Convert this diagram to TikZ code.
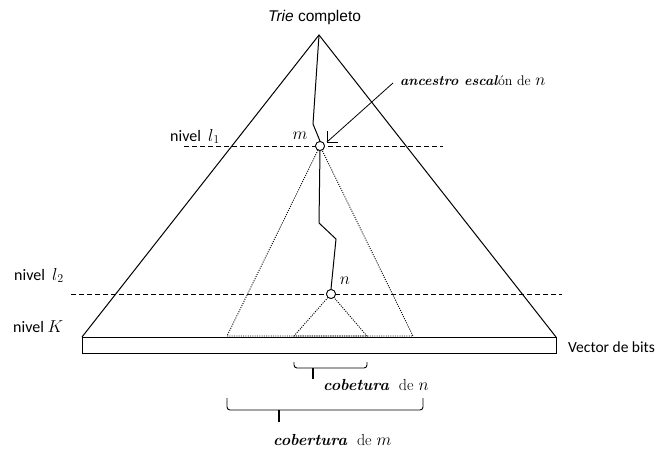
\documentclass[tikz,border=0pt]{standalone}
\usepackage{fontspec}
\newfontfamily\calib{Carlito}
\newfontfamily\arialf{Liberation Sans}
\usetikzlibrary{arrows.meta}
\begin{document}
\begin{tikzpicture}[x=1pt,y=-1pt,
  solidln/.style={line width=1pt},
  dashln/.style={line width=0.8pt,dash pattern=on 5pt off 3pt},
  dotln/.style={line width=0.9pt,dash pattern=on 1pt off 1.3pt},
  nd/.style={circle,draw,fill=white,line width=0.8pt,minimum size=9pt,inner sep=0pt},
  brc/.style={line width=0.9pt,rounded corners=3pt},
  lbl/.style={inner sep=0pt,anchor=base west},
  serifl/.style={font=\fontsize{16}{19}\selectfont}]
\useasboundingbox (0,0) rectangle (661,452);
% coordinates
\coordinate (apex) at (319,35);
\coordinate (bl) at (82,337);
\coordinate (br) at (556,337);
\coordinate (p1) at (313,124);
\coordinate (p2) at (319,223);
\coordinate (p3) at (336,239);
\coordinate (mL) at (227,336);
\coordinate (mR) at (413,336);
\coordinate (nL) at (294,336);
\coordinate (nR) at (367,336);
% vector de bits
\draw[solidln] (82,337) rectangle (556,353);
% triangle
\draw[solidln] (bl) -- (apex) -- (br);
% dashed levels
\draw[dashln] (184,146) -- (443,146);
\draw[dashln] (71,294) -- (562,294);
% dotted sub-tries
\draw[dotln] (320,146) -- (mL) -- (mR) -- cycle;
\draw[dotln] (331,294) -- (nL) -- (nR) -- cycle;
% path
\node[nd] (m) at (320,146) {};
\node[nd] (n) at (331,294) {};
\draw[solidln] (apex) -- (p1) -- (m.north);
\draw[solidln] (m.south) -- (p2) -- (p3) -- (n.north);
\node[nd] at (320,146) {};
\node[nd] at (331,294) {};
% arrow
\coordinate (as) at (393,83);
\coordinate (at) at (327,142);
\draw[line width=0.8pt] (as) -- (at);
\draw[line width=0.8pt] (327,131) -- (at) -- (338,142);
% labels
\node[lbl,font=\arialf\fontsize{15.5}{18}\selectfont] (trie) at (268,22) {\textit{Trie} completo};
\node[lbl,font=\fontsize{14}{17}\selectfont] (anc) at (400,85) {\textbf{\textit{ancestro escal}}ón de \fontsize{16}{19}\selectfont$n$};
\node[font=\fontsize{16.5}{19}\selectfont] (ml) at (300,136) {$m$};
\node[font=\fontsize{16.5}{19}\selectfont] (nl) at (345,281) {$n$};
\node[lbl,font=\calib\fontsize{16}{18}\selectfont] (l1) at (170,141) {nivel\ \ \fontsize{17}{19}\selectfont$l_1$};
\node[lbl,font=\calib\fontsize{16}{18}\selectfont] (l2) at (14,280) {nivel\ \ \fontsize{17}{19}\selectfont$l_2$};
\node[lbl,font=\calib\fontsize{16}{18}\selectfont] (lk) at (13,332) {nivel \fontsize{17}{19}\selectfont$K$};
\node[lbl,font=\calib\fontsize{15.5}{18}\selectfont] (vb) at (568,352) {Vector de bits};
\node[lbl,serifl] (cn) at (323,390) {\textbf{\textit{cobetura}}\ \ de $n$};
\node[lbl,serifl] (cm) at (273,445) {\textbf{\textit{cobertura}}\ \ de $m$};
% braces
\draw[brc] (294,362) -- (294,368) -- (313,368) -- (367,368) -- (367,362);
\draw[line width=1.1pt] (313,368) -- (313,379);
\draw[brc] (227,398) -- (227,410) -- (279,410) -- (423,410) -- (423,398);
\draw[line width=1.1pt] (279,410) -- (279,422);
\end{tikzpicture}
\end{document}
